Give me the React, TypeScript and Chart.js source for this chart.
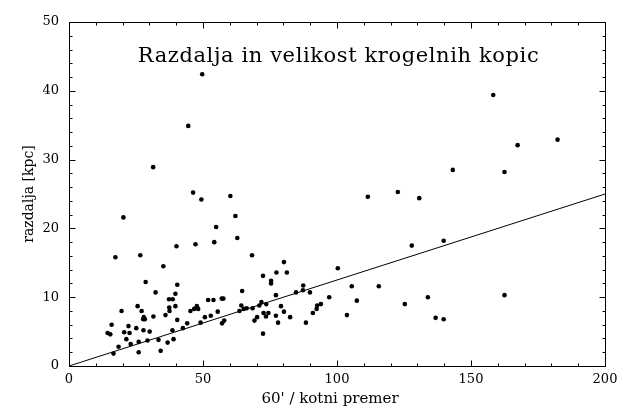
import React, { useEffect, useRef } from 'react';
import { Chart, registerables } from 'chart.js';

Chart.register(...registerables);

// 60' / angular diameter
const clusterX = [
  49.7, 44.5, 31.4, 46.3, 49.4, 60.2, 20.3, 62.1, 54.9, 54.2, 47.2, 40.1, 62.8, 17.3, 26.6, 68.3,
  35.2, 80.2, 77.4, 81.3, 72.4, 75.4, 75.4, 28.6, 40.4, 87.4, 87.3,
  158.3, 167.4, 182.3, 143.2, 162.5, 122.7, 111.5, 130.7, 127.9, 139.8, 100.3, 105.5, 115.6, 97.1,
  107.4, 133.9, 162.5, 125.3, 103.7, 136.8, 139.8,
  32.3, 39.7, 37.3, 38.7, 51.9, 53.9, 57.0, 57.6, 64.6, 77.2, 84.7, 89.9,
  37.4, 37.5, 39.7, 25.6, 27.1, 19.6, 27.9, 28.3, 27.7, 31.5, 36.0, 40.4,
  15.9, 14.4, 15.4, 20.6, 22.2, 22.6, 25.1, 27.8, 30.1, 21.4, 23.0, 26.0, 29.3, 33.4, 36.8, 38.6,
  39.0, 18.5, 16.6, 26.0, 34.2,
  42.5, 44.1, 45.3, 46.7, 47.7, 48.2, 49.1, 50.7, 52.9, 55.5, 57.1, 57.9,
  63.6, 64.3, 65.2, 66.3, 68.5, 69.2, 70.2, 71.0, 71.8, 72.6, 73.6, 73.5, 74.4, 72.4, 77.2, 78.0,
  79.1, 80.2, 82.5, 88.4, 91.0, 92.4, 92.6, 94.0,
];
// distance [kpc]
const clusterY = [
  42.4, 34.9, 28.9, 25.2, 24.2, 24.7, 21.6, 21.8, 20.2, 18.0, 17.7, 17.4, 18.6, 15.8, 16.1, 16.1,
  14.5, 15.1, 13.6, 13.6, 13.1, 12.4, 12.0, 12.2, 11.8, 11.7, 11.0,
  39.4, 32.1, 32.9, 28.5, 28.2, 25.3, 24.6, 24.4, 17.5, 18.2, 14.2, 11.6, 11.6, 10.0,
  9.5, 10.0, 10.3, 9.0, 7.4, 7.0, 6.8,
  10.7, 10.5, 9.7, 9.7, 9.6, 9.6, 9.8, 9.8, 10.9, 10.3, 10.7, 10.7,
  8.5, 8.0, 8.7, 8.7, 8.0, 8.0, 7.1, 6.8, 6.8, 7.2, 7.4, 6.7,
  6.0, 4.8, 4.6, 4.9, 5.8, 4.8, 5.5, 5.2, 5.0, 3.9, 3.2, 3.5, 3.7, 3.8, 3.4, 5.2,
  3.9, 2.8, 1.8, 2.0, 2.2,
  5.5, 6.2, 8.0, 8.3, 8.7, 8.3, 6.3, 7.1, 7.3, 7.9, 6.2, 6.6,
  8.0, 8.8, 8.3, 8.4, 8.4, 6.6, 7.1, 8.8, 9.3, 7.7, 9.0, 7.2, 7.7, 4.7, 7.3, 6.3,
  8.7, 7.9, 7.1, 6.3, 7.7, 8.3, 8.8, 9.0,
];

const fitX = [0, 200];
const fitY = [0, 25];

const xTickLabels = ['0', '50', '100', '150', '200'];
const yTickLabels = ['0', '10', '20', '30', '40', '50'];

const chartTitle = 'Razdalja in velikost krogelnih kopic';
const xTitle = "60' / kotni premer";
const yTitle = 'razdalja [kpc]';

const SERIF = '"DejaVu Serif", "Liberation Serif", serif';

const framePlugin = {
  id: 'pgFrame',
  afterDraw(chart: any) {
    const { ctx, chartArea } = chart;
    const xs = chart.scales.x;
    const ys = chart.scales.y;
    const L = Math.round(chartArea.left) + 0.5;
    const R = Math.round(chartArea.right) + 0.5;
    const T = Math.round(chartArea.top) + 0.5;
    const B = Math.round(chartArea.bottom) + 0.5;
    ctx.save();
    ctx.strokeStyle = '#000';
    ctx.lineWidth = 1;
    ctx.beginPath();
    ctx.rect(L, T, R - L, B - T);
    ctx.stroke();
    ctx.beginPath();
    for (let v = 0; v <= 200; v += 10) {
      const px = Math.round(xs.getPixelForValue(v)) + 0.5;
      const len = v % 50 === 0 ? 6 : 3;
      ctx.moveTo(px, B);
      ctx.lineTo(px, B - len);
      ctx.moveTo(px, T);
      ctx.lineTo(px, T + len);
    }
    for (let v = 0; v <= 50; v += 2) {
      const py = Math.round(ys.getPixelForValue(v)) + 0.5;
      const len = v % 10 === 0 ? 6 : 3;
      ctx.moveTo(L, py);
      ctx.lineTo(L + len, py);
      ctx.moveTo(R, py);
      ctx.lineTo(R - len, py);
    }
    ctx.stroke();

    ctx.fillStyle = '#000';
    // main title inside the plot
    ctx.save();
    ctx.font = '21px ' + SERIF;
    (ctx as any).letterSpacing = '0.6px';
    ctx.textAlign = 'center';
    ctx.textBaseline = 'alphabetic';
    ctx.fillText(chartTitle, 338.5, 62);
    ctx.restore();

    // x axis title
    ctx.font = '15px ' + SERIF;
    ctx.textAlign = 'center';
    ctx.textBaseline = 'middle';
    ctx.fillText(xTitle, 330, 399);

    // y axis title
    ctx.save();
    ctx.translate(29, 194);
    ctx.rotate(-Math.PI / 2);
    ctx.font = '14px ' + SERIF;
    ctx.textAlign = 'center';
    ctx.textBaseline = 'middle';
    ctx.fillText(yTitle, 0, 0);
    ctx.restore();
    ctx.restore();
  },
};

export default function App() {
  const ref = useRef<HTMLCanvasElement | null>(null);
  useEffect(() => {
    if (!ref.current) return;
    const points = clusterX.map((x, i) => ({ x, y: clusterY[i] }));
    const line = fitX.map((x, i) => ({ x, y: fitY[i] }));
    const chart = new Chart(ref.current, {
      type: 'scatter',
      data: {
        datasets: [
          {
            type: 'line',
            data: line,
            borderColor: '#000',
            borderWidth: 1,
            pointRadius: 0,
            fill: false,
          } as any,
          {
            data: points,
            backgroundColor: '#000',
            borderColor: '#000',
            borderWidth: 0,
            pointRadius: 2.3,
          },
        ],
      },
      options: {
        animation: false,
        responsive: false,
        layout: { padding: { top: 22, right: 37, left: 0, bottom: 0 } },
        plugins: { legend: { display: false }, tooltip: { enabled: false }, title: { display: false } },
        scales: {
          x: {
            type: 'linear',
            min: 0,
            max: 200,
            grid: { display: false, drawTicks: false },
            border: { display: false },
            ticks: {
              stepSize: 50,
              padding: 6,
              color: '#000',
              font: { family: SERIF, size: 13 },
              maxRotation: 0,
              callback: (v: any) => xTickLabels[Math.round(Number(v) / 50)] ?? '',
            },
            afterFit: (s: any) => { s.height = 45; },
          },
          y: {
            type: 'linear',
            min: 0,
            max: 50,
            grid: { display: false, drawTicks: false },
            border: { display: false },
            ticks: {
              stepSize: 10,
              padding: 10,
              color: '#000',
              font: { family: SERIF, size: 13 },
              callback: (v: any) => yTickLabels[Math.round(Number(v) / 10)] ?? '',
            },
            afterFit: (s: any) => { s.width = 69; },
          },
        },
      },
      plugins: [framePlugin],
    });
    return () => chart.destroy();
  }, []);
  return (
    <div style={{ position: 'absolute', left: 0, top: 0, width: 642, height: 411, background: '#fff' }}>
      <canvas ref={ref} width={642} height={411} style={{ width: 642, height: 411 }} />
    </div>
  );
}
